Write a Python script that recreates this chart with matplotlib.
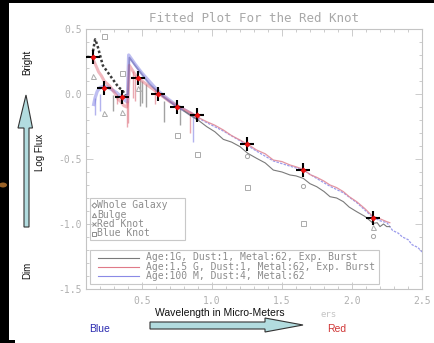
import numpy as np
import matplotlib
matplotlib.use("Agg")
import matplotlib.pyplot as plt
from matplotlib.patches import Rectangle, Polygon, Ellipse
from matplotlib.lines import Line2D
from matplotlib.ticker import MultipleLocator

# ---------------- data ----------------
title = "Fitted Plot For the Red Knot"

# Red knot photometry (plotted as black star with red centre)
rk_x = [0.153, 0.231, 0.355, 0.469, 0.617, 0.748, 0.893, 1.25, 1.65, 2.15]
rk_y = [0.285, 0.046, -0.02, 0.12, 0.0, -0.10, -0.16, -0.385, -0.585, -0.95]

# Blue knot (squares)
bkn_x = [0.231, 0.355, 0.748, 0.893, 1.25, 1.65]
bkn_y = [0.45, 0.16, -0.315, -0.46, -0.715, -0.99]

# Bulge (triangles)
bu_x = [0.153, 0.231, 0.355, 0.469, 2.15]
bu_y = [0.14, -0.146, -0.138, 0.05, -1.02]

# Whole galaxy (circles)
wg_x = [1.25, 1.65, 2.15]
wg_y = [-0.48, -0.71, -1.09]

# Model 1 (Age 1G) - black; UV part drawn dotted/thick
m1_uv_x = [0.15, 0.165, 0.18, 0.20, 0.22, 0.24, 0.26, 0.28, 0.30, 0.32, 0.34, 0.36, 0.38]
m1_uv_y = [0.33, 0.42, 0.38, 0.30, 0.22, 0.19, 0.16, 0.13, 0.10, 0.07, 0.045, 0.03, -0.01]
m1_x = [0.38, 0.40, 0.41, 0.45, 0.50, 0.55, 0.60, 0.65, 0.70, 0.75, 0.80, 0.843, 0.90, 0.962,
        1.02, 1.081, 1.14, 1.2, 1.255, 1.319, 1.38, 1.438, 1.50, 1.557, 1.60, 1.652, 1.70,
        1.748, 1.80, 1.843, 1.89, 1.938, 1.98, 2.033, 2.09, 2.152, 2.18, 2.2, 2.225, 2.248, 2.27]
m1_y = [-0.01, 0.0, 0.28, 0.22, 0.15, 0.08, 0.03, -0.02, -0.06, -0.10, -0.13, -0.162, -0.20, -0.251,
        -0.29, -0.349, -0.37, -0.405, -0.456, -0.495, -0.53, -0.585, -0.60, -0.623, -0.63, -0.649, -0.69,
        -0.713, -0.75, -0.79, -0.80, -0.828, -0.87, -0.905, -0.94, -0.995, -0.99, -1.02, -1.00, -1.02, -1.02]

# Model 2 (Age 1.5G) - red
m2_x = [0.15, 0.17, 0.19, 0.21, 0.23, 0.25, 0.27, 0.29, 0.31, 0.33, 0.35, 0.37, 0.39, 0.40,
        0.41, 0.45, 0.50, 0.55, 0.60, 0.65, 0.70, 0.75, 0.80, 0.843, 0.90, 0.962, 1.02, 1.081,
        1.14, 1.2, 1.255, 1.319, 1.38, 1.438, 1.50, 1.557, 1.60, 1.652, 1.70, 1.748, 1.80,
        1.843, 1.89, 1.938, 1.98, 2.033, 2.09, 2.145, 2.20, 2.248, 2.27]
m2_y = [0.27, 0.22, 0.17, 0.14, 0.10, 0.08, 0.06, 0.03, 0.0, -0.04, -0.06, -0.09, -0.10, -0.05,
        0.22, 0.15, 0.10, 0.06, 0.02, -0.02, -0.06, -0.09, -0.12, -0.144, -0.18, -0.213, -0.24, -0.277,
        -0.32, -0.354, -0.387, -0.431, -0.46, -0.508, -0.52, -0.546, -0.56, -0.579, -0.62, -0.641, -0.67,
        -0.70, -0.72, -0.751, -0.79, -0.828, -0.88, -0.938, -0.96, -0.982, -0.99]

# Model 3 (Age 100M) - blue
m3_x = [0.155, 0.165, 0.18, 0.20, 0.23, 0.26, 0.29, 0.32, 0.35, 0.38, 0.395, 0.405, 0.45, 0.50,
        0.55, 0.60, 0.65, 0.70, 0.75, 0.80, 0.85, 0.90, 0.962, 1.081, 1.2, 1.319, 1.438, 1.557,
        1.652, 1.748, 1.843, 1.938, 2.033, 2.145, 2.20, 2.25, 2.29, 2.33, 2.36, 2.40, 2.43, 2.47, 2.5]
m3_y = [-0.08, -0.03, 0.02, 0.05, 0.06, 0.05, 0.03, 0.01, -0.02, -0.05, -0.06, 0.30, 0.23, 0.16,
        0.10, 0.04, -0.01, -0.05, -0.09, -0.12, -0.15, -0.185, -0.22, -0.285, -0.36, -0.44, -0.515, -0.555,
        -0.585, -0.65, -0.71, -0.76, -0.835, -0.945, -0.975, -0.99, -1.05, -1.07, -1.10, -1.12, -1.16, -1.18, -1.215]

# absorption features (wavelength, top, bottom, model colour key)
sp_x = [0.165, 0.20, 0.29, 0.32, 0.39, 0.40, 0.435, 0.45, 0.485, 0.50, 0.53, 0.59, 0.657, 0.77, 0.84, 0.864]
sp_top = [-0.03, 0.0, -0.01, 0.0, -0.03, -0.05, 0.18, 0.15, 0.12, 0.10, 0.08, 0.03, -0.05, -0.11, -0.15, -0.17]
sp_bot = [-0.16, -0.13, -0.13, -0.08, -0.25, -0.22, -0.03, -0.05, -0.09, -0.07, -0.10, -0.08, -0.215, -0.24, -0.30, -0.37]
sp_c = ["b", "b", "k", "r", "r", "r", "r", "r", "k", "k", "k", "r", "k", "k", "r", "b"]

legend_sym = ["Whole Galaxy", "Bulge", "Red Knot", "Blue Knot"]
legend_lines = ["Age:1G, Dust:1, Metal:62, Exp. Burst",
                "Age:1.5 G, Dust:1, Metal:62, Exp. Burst",
                "Age:100 M, Dust:4, Metal:62"]

# ---------------- figure ----------------
W, H = 434, 343
fig = plt.figure(figsize=(W / 100, H / 100), dpi=100)
fig.patch.set_facecolor("white")

def fx(px):
    return px / W

def fy(py):
    return 1 - py / H

mono = "DejaVu Sans Mono"
gray_spine = "#c4c4c4"

ax = fig.add_axes([fx(86), fy(289), (422 - 86) / W, (289 - 29) / H])
ax.set_xlim(0.1, 2.5)
ax.set_ylim(-1.5, 0.5)
for s in ax.spines.values():
    s.set_color(gray_spine)
    s.set_linewidth(0.8)
ax.xaxis.set_major_locator(MultipleLocator(0.5))
ax.xaxis.set_minor_locator(MultipleLocator(0.1))
ax.yaxis.set_major_locator(MultipleLocator(0.5))
ax.yaxis.set_minor_locator(MultipleLocator(0.1))
ax.tick_params(which="both", direction="in", top=True, right=True, color=gray_spine, width=0.6,
               labelsize=7, labelcolor="#b0b0b0")
ax.tick_params(which="major", length=5)
ax.tick_params(which="minor", length=2.5)
ax.tick_params(axis="x", pad=5)
ax.tick_params(axis="y", pad=3)
for lab in ax.get_xticklabels() + ax.get_yticklabels():
    lab.set_family(mono)
ax.xaxis.set_major_formatter(matplotlib.ticker.FuncFormatter(lambda v, p: f"{v:.1f}"))
ax.yaxis.set_major_formatter(matplotlib.ticker.FuncFormatter(lambda v, p: f"{v:.1f}".replace("-0.0", "0.0")))

ax.set_title(title, family=mono, fontsize=9, color="#a8a8a8", pad=5)

cols = {"k": "#707070", "r": "#e07a86", "b": "#8a8ae6"}

# absorption spikes
for x, t, b, c in zip(sp_x, sp_top, sp_bot, sp_c):
    ax.vlines(x, b, t, color=cols[c], lw=1.0, alpha=0.65, zorder=2)

m2x = np.array(m2_x); m2y = np.array(m2_y)
m3x = np.array(m3_x); m3y = np.array(m3_y)
m1x = np.array(m1_x); m1y = np.array(m1_y)

# fuzzy UV/optical portions
sel3 = m3x <= 0.96
ax.plot(m3x[sel3], m3y[sel3], color="#7070e0", lw=2.4, alpha=0.45, zorder=3)
sel2 = m2x <= 0.96
ax.plot(m2x[sel2], m2y[sel2], color="#e06070", lw=2.2, alpha=0.45, zorder=3)
sel1 = m1x <= 0.96
ax.plot(m1x[sel1], m1y[sel1], color="#5a5aa8", lw=1.3, alpha=0.5, zorder=3)

# thin lines for remaining range
ax.plot(m3x[m3x >= 0.9], m3y[m3x >= 0.9], color="#9090ea", lw=0.9, ls=(0, (2, 1)), alpha=0.9, zorder=3)
ax.plot(m2x[m2x >= 0.8], m2y[m2x >= 0.8], color="#e08a98", lw=0.9, alpha=0.9, zorder=4)
ax.plot(m1x[m1x >= 0.8], m1y[m1x >= 0.8], color="#7a7a7a", lw=0.8, zorder=4)
ax.plot(m1_uv_x, m1_uv_y, color="#3a3a3a", lw=1.8, ls=(0, (1, 0.9)), zorder=4)

# symbols
ax.plot(bkn_x, bkn_y, ls="none", marker="s", ms=3.6, mfc="none", mec="#ababab", mew=0.7, zorder=5)
ax.plot(bu_x, bu_y, ls="none", marker="^", ms=3.6, mfc="none", mec="#ababab", mew=0.7, zorder=5)
ax.plot(wg_x, wg_y, ls="none", marker="o", ms=3.0, mfc="none", mec="#a4a4a4", mew=0.7, zorder=5)
ax.plot(rk_x, rk_y, ls="none", marker="+", ms=10, mec="black", mew=1.5, zorder=6)
ax.plot(rk_x, rk_y, ls="none", marker="D", ms=2.8, mfc="#ee1111", mec="#dd0000", mew=0.3, zorder=7)

# ---------------- legends (drawn in pixel space) ----------------
leg_col = "#8c8c8c"
fig.add_artist(Rectangle((fx(90), fy(240)), (185 - 90) / W, (240 - 198) / H, transform=fig.transFigure,
                         fill=False, ec="#c8c8c8", lw=0.8))
sym_markers = ["D", "^", "x", "s"]
sym_rows = [205, 214.5, 224, 233.5]
for m, lab, r in zip(sym_markers, legend_sym, sym_rows):
    fig.add_artist(Line2D([fx(93.5)], [fy(r)], marker=m, ms=3.0 if m != "D" else 2.6, mfc="none",
                          mec=leg_col, mew=0.7, ls="none", transform=fig.transFigure))
    fig.text(fx(97), fy(r), lab, family=mono, fontsize=7.0, color=leg_col, va="center", ha="left")

fig.add_artist(Rectangle((fx(90), fy(284)), (379 - 90) / W, (284 - 250) / H, transform=fig.transFigure,
                         fill=False, ec="#c8c8c8", lw=0.8, zorder=5))
line_cols = ["#7a7a7a", "#e07a88", "#8a8ae6"]
line_rows = [257.5, 267, 276]
for c, lab, r in zip(line_cols, legend_lines, line_rows):
    fig.add_artist(Line2D([fx(98), fx(139)], [fy(r), fy(r)], color=c, lw=0.8, transform=fig.transFigure))
    fig.text(fx(146), fy(r), lab, family=mono, fontsize=7.0, color=leg_col, va="center", ha="left")

# ---------------- annotations outside the axes ----------------
sans = "Liberation Sans"
fig.text(fx(27), fy(62), "Bright", rotation=90, family=sans, fontsize=7, color="#111111", ha="center", va="center")
fig.text(fx(40), fy(152), "Log Flux", rotation=90, family=sans, fontsize=7, color="#111111", ha="center", va="center")
fig.text(fx(27), fy(270), "Dim", rotation=90, family=sans, fontsize=7, color="#111111", ha="center", va="center")

arrow_fill = "#b2dcdf"
vert = [(24, 227), (29, 227), (29, 128), (32.5, 128), (26, 95), (18, 128), (24, 128)]
fig.add_artist(Polygon([(fx(a), fy(b)) for a, b in vert], closed=True, transform=fig.transFigure,
                       fc=arrow_fill, ec="#333333", lw=0.8))
horz = [(150, 322), (265, 322), (265, 318), (303, 325), (265, 332), (265, 329), (150, 329)]
fig.add_artist(Polygon([(fx(a), fy(b)) for a, b in horz], closed=True, transform=fig.transFigure,
                       fc=arrow_fill, ec="#333333", lw=0.8))

fig.text(fx(220), fy(313), "Wavelength in Micro-Meters", family=sans, fontsize=7.5, color="#111111",
         ha="center", va="center")
fig.text(fx(329), fy(314.5), "ers", family=mono, fontsize=6.5, color="#c4c4c4", ha="center", va="center")
fig.text(fx(100), fy(328.5), "Blue", family=sans, fontsize=7.5, color="#2b2bb0", ha="center", va="center")
fig.text(fx(337), fy(328.5), "Red", family=sans, fontsize=7.5, color="#d03535", ha="center", va="center")

# black screen border remnants
fig.add_artist(Rectangle((0, 0), fx(9), 1, transform=fig.transFigure, color="black", lw=0))
fig.add_artist(Rectangle((0, fy(3)), 1, 3 / H, transform=fig.transFigure, color="black", lw=0))
fig.add_artist(Rectangle((0, 0), fx(15), 3 / H, transform=fig.transFigure, color="black", lw=0))
fig.add_artist(Ellipse((fx(3), fy(185)), 8 / W, 5 / H, transform=fig.transFigure, color="#c07a30", lw=0, alpha=0.8))

fig.savefig("out.png", dpi=100, facecolor="white")
